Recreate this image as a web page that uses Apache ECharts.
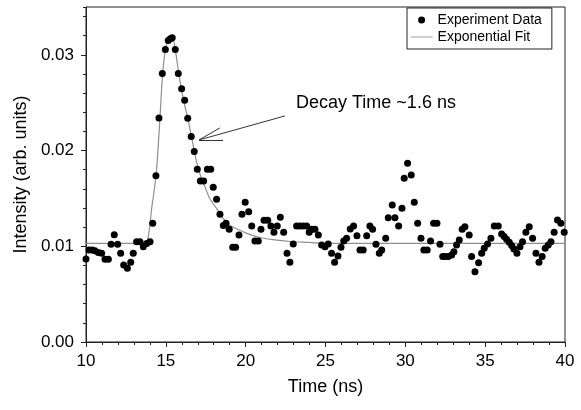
<!DOCTYPE html>
<html><head><meta charset="utf-8">
<script src="https://cdn.jsdelivr.net/npm/echarts@6/dist/echarts.min.js"></script>
<style>html,body{margin:0;padding:0;background:#fff}#c{width:581px;height:410px}</style>
</head><body><div id="c"></div>
<script>
const FONT = "'Liberation Sans', Arial, sans-serif";

const expTime = [10.00,10.19,10.39,10.56,10.77,10.98,11.19,11.40,11.57,11.77,11.98,12.17,12.36,12.59,12.80,12.96,13.17,13.38,13.59,13.80,14.01,14.18,14.38,14.57,14.78,14.97,15.15,15.28,15.40,15.59,15.78,15.99,16.18,16.37,16.59,16.78,16.97,17.16,17.37,17.60,17.81,17.97,18.18,18.39,18.60,18.77,18.97,19.19,19.37,19.58,19.77,19.97,20.19,20.38,20.58,20.79,20.96,21.15,21.38,21.58,21.77,21.98,22.17,22.38,22.59,22.77,22.98,23.19,23.40,23.61,23.82,23.98,24.13,24.34,24.55,24.76,24.97,25.17,25.38,25.57,25.78,25.97,26.14,26.32,26.55,26.76,26.97,27.16,27.36,27.58,27.78,27.95,28.16,28.37,28.52,28.77,28.93,29.18,29.35,29.58,29.79,29.93,30.14,30.37,30.56,30.77,30.98,31.16,31.37,31.58,31.77,31.98,32.17,32.34,32.48,32.69,32.90,33.04,33.21,33.38,33.56,33.73,34.00,34.15,34.36,34.59,34.78,34.94,35.15,35.36,35.57,35.82,36.03,36.19,36.34,36.51,36.66,36.80,36.99,37.18,37.34,37.55,37.76,37.97,38.18,38.37,38.57,38.76,38.95,39.12,39.32,39.53,39.74,39.95];
const expIntensity = [0.00868,0.00962,0.00962,0.00954,0.00934,0.00927,0.00864,0.00864,0.0102,0.0112,0.0102,0.00927,0.00805,0.0077,0.00833,0.00927,0.01048,0.01048,0.00996,0.0103,0.01048,0.0124,0.01738,0.0234,0.02804,0.03055,0.0315,0.03167,0.0318,0.03055,0.02804,0.02645,0.02526,0.02338,0.02146,0.01989,0.01805,0.01683,0.01683,0.01805,0.01805,0.01617,0.01492,0.01335,0.01216,0.0124,0.01178,0.0099,0.0099,0.01118,0.01335,0.0146,0.01362,0.01212,0.01056,0.01056,0.01178,0.01272,0.01272,0.01212,0.01147,0.01212,0.01303,0.01147,0.00927,0.00833,0.01024,0.01212,0.01212,0.01212,0.01212,0.01147,0.01178,0.01178,0.01118,0.01014,0.00996,0.01024,0.00927,0.00833,0.00899,0.0099,0.01056,0.01084,0.01181,0.01212,0.01111,0.00962,0.00962,0.01111,0.01212,0.01178,0.01021,0.00927,0.00962,0.01084,0.01299,0.01432,0.01299,0.01212,0.01397,0.01711,0.01868,0.01746,0.0146,0.0124,0.01084,0.00962,0.00962,0.01056,0.0124,0.0124,0.01021,0.00892,0.00892,0.00892,0.00909,0.00944,0.01014,0.01066,0.01178,0.01205,0.01118,0.00892,0.00735,0.00829,0.00927,0.00979,0.01024,0.01084,0.01212,0.01212,0.01129,0.01101,0.01073,0.01042,0.01007,0.00972,0.00927,0.00996,0.01048,0.01147,0.01205,0.01084,0.00927,0.00833,0.00892,0.00979,0.01014,0.01048,0.01147,0.01275,0.0124,0.01147];

const fitTime = [10,13.5,13.8,13.9,14.0,14.1,14.2,14.4,14.6,14.8,15.0,15.2,15.35,15.5,15.6,15.8,16.0,16.2,16.4,16.6,16.9,17.15,17.5,17.75,18.2,18.6,19.0,19.6,20.0,20.7,21.7,22.8,24.0,25.0,40];
const fitIntensity = [0.0103,0.0103,0.0104,0.0110,0.0122,0.0138,0.0150,0.0176,0.0225,0.0280,0.0308,0.0318,0.0320,0.0314,0.0305,0.0282,0.0262,0.0246,0.0232,0.0215,0.0190,0.0175,0.0160,0.0150,0.0139,0.0129,0.0122,0.0117,0.0114,0.0110,0.0107,0.0105,0.0104,0.0103,0.0103];

const seriesNames = ['Experiment Data', 'Exponential Fit'];
const annotationText = 'Decay Time ~1.6 ns';
// arrow: tip, tail, head ends (data coords)
const arrowTip = [17.08, 0.02111];
const arrowTail = [22.46, 0.02362];
const arrowHeadA = [18.58, 0.02111];
const arrowHeadB = [18.39, 0.02237];

const chart = echarts.init(document.getElementById('c'), null, {renderer: 'canvas'});
const axisColor = '#222';
chart.setOption({
  animation: false,
  backgroundColor: '#fff',
  textStyle: {fontFamily: FONT},
  grid: {left: 86, right: 16, top: 7, bottom: 68, show: true, borderColor: axisColor, borderWidth: 1},
  legend: {
    orient: 'vertical', left: 407, top: 8,
    padding: [5, 10, 5, 3], itemGap: 3, itemWidth: 22, itemHeight: 7,
    borderColor: '#222', borderWidth: 1, backgroundColor: '#fff',
    textStyle: {fontFamily: FONT, fontSize: 14, color: '#000'},
    data: [
      {name: seriesNames[0], icon: 'circle'},
      {name: seriesNames[1], itemStyle: {opacity: 0}, lineStyle: {color: '#b0b0b0', width: 1.2}}
    ]
  },
  xAxis: {
    type: 'value', min: 10, max: 40, interval: 5,
    name: 'Time (ns)', nameLocation: 'middle', nameGap: 36,
    nameTextStyle: {fontFamily: FONT, fontSize: 18, color: '#000'},
    axisLine: {show: true, lineStyle: {color: axisColor}},
    axisTick: {show: true, length: 5, lineStyle: {color: axisColor}},
    minorTick: {show: true, splitNumber: 5, length: 3, lineStyle: {color: axisColor}},
    axisLabel: {fontFamily: FONT, fontSize: 17, color: '#000', margin: 11},
    splitLine: {show: false}
  },
  yAxis: [{
    type: 'value', min: 0, max: 0.035, interval: 0.01,
    name: 'Intensity (arb. units)', nameLocation: 'middle', nameGap: 54,
    nameTextStyle: {fontFamily: FONT, fontSize: 18, color: '#000'},
    axisLine: {show: true, lineStyle: {color: axisColor}},
    axisTick: {show: true, length: 5, lineStyle: {color: axisColor}},
    axisLabel: {fontFamily: FONT, fontSize: 17, color: '#000', margin: 12, showMaxLabel: false,
      formatter: v => v.toFixed(2)},
    splitLine: {show: false}
  }, {
    type: 'value', min: 0, max: 0.035, interval: 0.002, position: 'left',
    axisLine: {show: false},
    axisTick: {show: true, length: 3, lineStyle: {color: axisColor}},
    axisLabel: {show: false},
    splitLine: {show: false}
  }],
  series: [{
    name: seriesNames[1], type: 'line', symbol: 'none', smooth: 0.3,
    data: fitTime.map((t, i) => [t, fitIntensity[i]]),
    lineStyle: {color: '#8f8f8f', width: 1.2},
    itemStyle: {color: '#aaaaaa'},
    z: 1,
    markLine: {
      silent: true, symbol: ['none', 'none'], animation: false,
      label: {show: false},
      lineStyle: {color: '#333', width: 1, type: 'solid'},
      emphasis: {disabled: true},
      data: [
        [{coord: arrowTip}, {coord: arrowTail}],
        [{coord: arrowTip}, {coord: arrowHeadA}],
        [{coord: arrowTip}, {coord: arrowHeadB}]
      ]
    }
  }, {
    name: seriesNames[0], type: 'scatter', symbol: 'circle', symbolSize: 7,
    data: expTime.map((t, i) => [t, expIntensity[i]]),
    itemStyle: {color: '#000', opacity: 1},
    z: 2
  }],
  graphic: [{
    type: 'text', left: 296, top: 94,
    style: {text: annotationText, font: '18px ' + FONT, fill: '#000'}
  }]
});
</script></body></html>
